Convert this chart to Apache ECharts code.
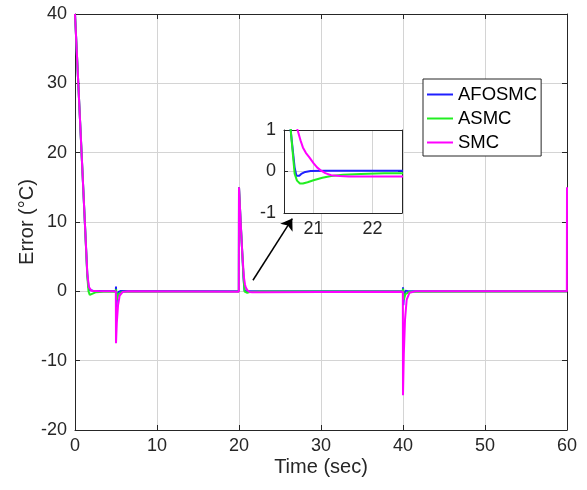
<!DOCTYPE html>
<html>
<head>
<meta charset="utf-8">
<script src="https://cdn.jsdelivr.net/npm/echarts@6.0.0/dist/echarts.min.js"></script>
<style>
  html, body { margin: 0; padding: 0; background: #fff; }
  #chart { width: 587px; height: 490px; }
</style>
</head>
<body>
<div id="chart"></div>
<script>
// series values, [time (sec), error (°C)]
const seriesNames = ['AFOSMC', 'ASMC', 'SMC'];
const seriesColors = ['#1f1fff', '#22ee22', '#ff00ff'];

const afosmcData = [[0,40],[0.4,30],[0.8,20],[1.2,10],[1.5,2.5],[1.65,0.6],[1.8,0.2],[2.2,0.1],[3,0.05],
  [4.98,0.05],[5.0,0.7],[5.03,-2.5],[5.12,-0.8],[5.3,-0.1],[5.6,0.05],
  [19.98,0.02],[20.0,15],[20.2,10],[20.4,5.5],[20.55,2],[20.62,0.9],[20.68,0.1],[20.71,-0.1],[20.73,-0.13],
  [20.76,-0.1],[20.8,-0.05],[20.86,-0.01],[20.95,0.01],[21.2,0.02],[22.5,0.02],
  [39.98,0.02],[40.0,0.6],[40.04,-2],[40.12,-0.6],[40.3,0.1],[40.6,0.03],[60,0.02]];

const asmcData = [[0,40],[0.4,30],[0.8,20],[1.2,10],[1.5,2.2],[1.65,0],[1.8,-0.5],[2.0,-0.45],[2.5,-0.15],[3.5,-0.05],
  [4.98,-0.02],[5.02,0.3],[5.1,-1.2],[5.3,-0.4],[5.8,-0.05],
  [19.98,-0.02],[20.0,15],[20.2,10],[20.4,5.5],[20.55,2.1],[20.62,0.9],[20.68,-0.05],[20.72,-0.22],[20.77,-0.29],
  [20.82,-0.29],[20.9,-0.26],[21.0,-0.21],[21.15,-0.15],[21.3,-0.11],[21.5,-0.08],[21.8,-0.06],[22.2,-0.045],
  [22.5,-0.04],[30,-0.02],
  [39.98,-0.02],[40.02,0.4],[40.1,-1.2],[40.3,-0.4],[40.8,-0.05],[60,-0.02]];

const smcData = [[0,40],[0.4,30],[0.8,20],[1.2,10],[1.5,2.6],[1.7,0.6],[2.0,0.1],[3,0],
  [4.98,0],[5.0,-7.5],[5.1,-4.5],[5.25,-2],[5.45,-0.6],[5.8,-0.1],[6.5,0],
  [19.98,-0.05],[20.0,15],[20.2,10],[20.4,5.5],[20.6,2],[20.73,1],[20.78,0.75],[20.82,0.58],[20.87,0.45],
  [20.93,0.34],[21.0,0.2],[21.06,0.1],[21.13,0.02],[21.2,-0.04],[21.3,-0.09],[21.45,-0.11],[21.6,-0.12],
  [22.5,-0.12],[30,-0.08],
  [39.98,-0.05],[40.0,-15],[40.1,-9],[40.25,-4],[40.45,-1.2],[40.8,-0.2],[41.5,0],[59.98,0],[60,15]];

const allData = [afosmcData, asmcData, smcData];

// axes
const xMin = 0, xMax = 60, xStep = 10;
const yMin = -20, yMax = 40, yStep = 10;
const insetXMin = 20.5, insetXMax = 22.5, insetXStep = 0.5, insetXLabels = [21, 22];
const insetYMin = -1, insetYMax = 1, insetYStep = 1;
// arrow from the curve to the zoomed box
const arrowFrom = [21.7, 1.6];
const arrowTo = [26.5, 10.5];

const font = '"Liberation Sans", Arial, Helvetica, sans-serif';
const textColor = '#262626';
const gridColor = '#d4d4d4';

// layout of the main plot and of the zoomed box
const mainBox = { left: 75, top: 14, width: 492, height: 416 };
const insetBox = { left: 284, top: 130, width: 118, height: 83 };

const chart = echarts.init(document.getElementById('chart'));

function axisCommon(extra) {
  return Object.assign({
    type: 'value',
    axisLine: { show: true, onZero: false, lineStyle: { color: textColor, width: 1 } },
    axisTick: { show: true, inside: true, length: 5, lineStyle: { color: textColor } },
    axisLabel: { color: textColor, fontSize: 18, fontFamily: font },
    splitLine: { show: true, lineStyle: { color: gridColor, width: 1 } }
  }, extra);
}

const series = [];
allData.forEach((d, i) => {
  const s = {
    name: seriesNames[i],
    type: 'line',
    data: d,
    xAxisIndex: 0, yAxisIndex: 0,
    showSymbol: false,
    clip: true,
    lineStyle: { color: seriesColors[i], width: 2 },
    itemStyle: { color: seriesColors[i] },
    z: 2
  };
  if (i === 2) {
    s.markLine = {
      silent: true,
      symbol: ['none', 'arrow'],
      symbolSize: 11,
      label: { show: false },
      lineStyle: { color: '#000', width: 1.5, type: 'solid' },
      data: [[{ coord: arrowFrom }, { coord: arrowTo }]]
    };
  }
  series.push(s);
});
allData.forEach((d, i) => {
  series.push({
    name: seriesNames[i],
    type: 'line',
    data: d,
    xAxisIndex: 1, yAxisIndex: 1,
    showSymbol: false,
    clip: true,
    lineStyle: { color: seriesColors[i], width: 2 },
    itemStyle: { color: seriesColors[i] },
    z: 12
  });
});

const option = {
  animation: false,
  backgroundColor: '#fff',
  textStyle: { fontFamily: font },
  grid: [
    Object.assign({ show: false }, mainBox),
    Object.assign({ show: false }, insetBox)
  ],
  // white backing of the zoomed box, hides the main plot behind it
  graphic: [{
    type: 'rect',
    left: insetBox.left, top: insetBox.top,
    shape: { width: insetBox.width, height: insetBox.height },
    style: { fill: '#fff' },
    silent: true,
    z: 6
  }],
  xAxis: [
    axisCommon({ gridIndex: 0, min: xMin, max: xMax, interval: xStep, position: 'bottom',
      name: 'Time (sec)', nameLocation: 'middle', nameGap: 27, nameMoveOverlap: false,
      nameTextStyle: { color: textColor, fontSize: 20, fontFamily: font },
      axisLabel: { color: textColor, fontSize: 18, fontFamily: font, margin: 7 } }),
    // half-step ticks; only every other split line is coloured so grid lines sit at 21 and 22
    axisCommon({ gridIndex: 1, min: insetXMin, max: insetXMax, interval: insetXStep, position: 'bottom', z: 11,
      axisTick: { show: false },
      axisLabel: { color: textColor, fontSize: 18, fontFamily: font, margin: 7, customValues: insetXLabels },
      splitLine: { show: true, showMinLine: true, showMaxLine: true,
        lineStyle: { color: ['rgba(0,0,0,0)', gridColor], width: 1 } } }),
    axisCommon({ gridIndex: 0, min: xMin, max: xMax, interval: xStep, position: 'top',
      axisLabel: { show: false }, splitLine: { show: false } }),
    axisCommon({ gridIndex: 1, min: insetXMin, max: insetXMax, interval: insetXStep, position: 'top', z: 11,
      axisTick: { show: false }, axisLabel: { show: false }, splitLine: { show: false } })
  ],
  yAxis: [
    axisCommon({ gridIndex: 0, min: yMin, max: yMax, interval: yStep, position: 'left',
      name: 'Error (°C)', nameLocation: 'middle', nameGap: 38, nameRotate: 90, nameMoveOverlap: false,
      nameTextStyle: { color: textColor, fontSize: 20, fontFamily: font },
      axisLabel: { color: textColor, fontSize: 18, fontFamily: font, margin: 8 } }),
    axisCommon({ gridIndex: 1, min: insetYMin, max: insetYMax, interval: insetYStep, position: 'left', z: 11,
      axisTick: { show: true, inside: true, length: 4, lineStyle: { color: textColor } },
      axisLabel: { color: textColor, fontSize: 18, fontFamily: font, margin: 8 } }),
    axisCommon({ gridIndex: 0, min: yMin, max: yMax, interval: yStep, position: 'right',
      axisLabel: { show: false }, splitLine: { show: false } }),
    axisCommon({ gridIndex: 1, min: insetYMin, max: insetYMax, interval: insetYStep, position: 'right', z: 11,
      axisTick: { show: true, inside: true, length: 4, lineStyle: { color: textColor } },
      axisLabel: { show: false }, splitLine: { show: false } })
  ],
  legend: {
    data: seriesNames,
    orient: 'vertical',
    left: 423, top: 79,
    padding: [6, 4, 4, 4],
    itemGap: 5,
    itemWidth: 26, itemHeight: 2,
    icon: 'rect',
    backgroundColor: '#fff',
    borderColor: textColor, borderWidth: 1,
    textStyle: { color: '#000', fontSize: 18.5, fontFamily: font },
    z: 20
  },
  series: series
};

chart.setOption(option);
</script>
</body>
</html>
